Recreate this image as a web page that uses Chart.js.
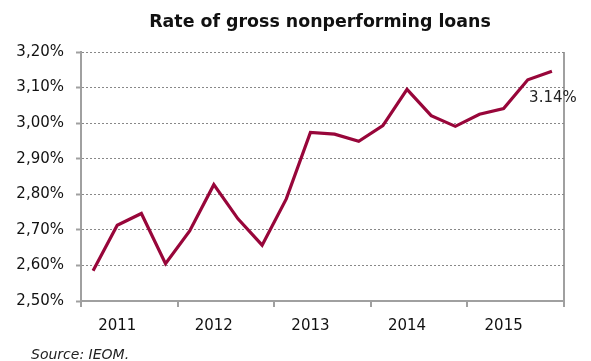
<!DOCTYPE html>
<html>
<head>
<meta charset="utf-8">
<script src="https://cdn.jsdelivr.net/npm/chart.js@4/dist/chart.umd.min.js"></script>
<style>
  html, body { margin: 0; padding: 0; background: #fff; }
  #wrap { width: 591px; height: 361px; }
</style>
</head>
<body>
<div id="wrap"><canvas id="myChart" width="591" height="361"></canvas></div>
<script>
// quarterly data, 2011 Q1 .. 2015 Q4
const years = ["2011", "2012", "2013", "2014", "2015"];
const quarters = ["Q1", "Q2", "Q3", "Q4"];
const npl_rate = [
  2.585, 2.713, 2.746, 2.605,
  2.697, 2.827, 2.731, 2.657,
  2.787, 2.974, 2.969, 2.949,
  2.993, 3.095, 3.021, 2.991,
  3.025, 3.041, 3.122, 3.146
];
const last_label = "3.14%";
const chart_title = "Rate of gross nonperforming loans";
const source_text = "Source: IEOM.";
const y_min = 2.5, y_max = 3.2, y_step = 0.1;

let labels = [];
years.forEach(function (y) {
  quarters.forEach(function (q) {
    labels.push(y + " " + q);
  });
});

const axis_grey = "#a0a0a0";
const font_family = "'DejaVu Sans', Verdana, sans-serif";

// title, source note and the end label
const extraText = {
  id: "extraText",
  afterDatasetsDraw(chart) {
    const ctx = chart.ctx;
    const meta = chart.getDatasetMeta(0);
    const pt = meta.data[meta.data.length - 1];
    ctx.save();
    ctx.fillStyle = "#111";
    ctx.textBaseline = "middle";
    ctx.textAlign = "center";
    ctx.font = "bold 17.4px " + font_family;
    ctx.fillText(chart_title, 320, 22);
    ctx.fillStyle = "#222";
    ctx.font = "15px " + font_family;
    ctx.fillText(last_label, pt.x + 1, pt.y + 27);
    ctx.font = "italic 14px " + font_family;
    ctx.textAlign = "left";
    ctx.fillText(source_text, 31, 355);
    ctx.restore();
  }
};

new Chart(document.getElementById("myChart").getContext("2d"), {
  type: "line",
  data: {
    labels: labels,
    datasets: [{
      data: npl_rate,
      borderColor: "#98063a",
      borderWidth: 3.2,
      pointRadius: 0,
      tension: 0,
      fill: false
    }]
  },
  options: {
    responsive: false,
    animation: false,
    layout: { padding: { left: 0, right: 27, top: 52, bottom: 24 } },
    plugins: {
      legend: { display: false },
      tooltip: { enabled: false },
      title: { display: false }
    },
    scales: {
      x: {
        offset: true,
        afterFit(scale) { scale.height = 36; },
        grid: {
          offset: true,
          drawOnChartArea: true,
          tickLength: 6,
          lineWidth: 2,
          tickWidth: 2,
          color: function (c) { return c.index === undefined ? axis_grey : "transparent"; },
          tickColor: function (c) { return (c.index === undefined || c.index % 4 === 0) ? axis_grey : "transparent"; }
        },
        border: { color: axis_grey, width: 2 },
        ticks: {
          autoSkip: false,
          maxRotation: 0,
          padding: 10,
          color: "#111",
          font: { family: font_family, size: 15 },
          callback: function (v, i) { return i % 4 === 1 ? years[(i - 1) / 4] : ""; }
        }
      },
      y: {
        min: y_min,
        max: y_max,
        afterFit(scale) { scale.width = 81; },
        grid: {
          color: "#888",
          lineWidth: 1,
          tickLength: 5,
          tickColor: axis_grey,
          tickWidth: 2
        },
        border: { color: axis_grey, width: 2, dash: [2, 2] },
        ticks: {
          stepSize: y_step,
          padding: 12,
          color: "#111",
          font: { family: font_family, size: 15 },
          callback: function (v) { return v.toFixed(2).replace(".", ",") + "%"; }
        }
      }
    }
  },
  plugins: [extraText]
});
</script>
</body>
</html>
